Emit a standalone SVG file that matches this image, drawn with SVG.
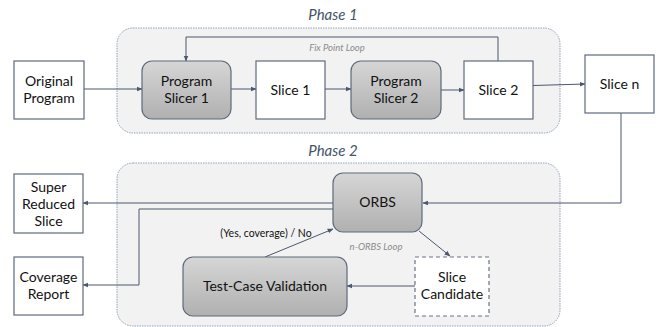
<svg xmlns="http://www.w3.org/2000/svg" width="659" height="327" viewBox="0 0 659 327">
  <defs>
    <linearGradient id="grayFill" x1="0" y1="0" x2="0" y2="1">
      <stop offset="0" stop-color="#d6d6d6"/>
      <stop offset="1" stop-color="#b0b0b0"/>
    </linearGradient>
    <marker id="arrow" viewBox="0 0 10 10" refX="9" refY="5" markerWidth="6" markerHeight="6" orient="auto-start-reverse" markerUnits="userSpaceOnUse">
      <path d="M0,1 L10,5 L0,9 Z" fill="#4a5870"/>
    </marker>
    <style>
      .phase { fill: #f2f2f2; stroke: #8ea2bc; stroke-width: 1; stroke-dasharray: 1.5 1; }
      .phase-title { font-family: Lato, "Open Sans", sans-serif; font-style: italic; font-size: 15px; fill: #44546a; text-anchor: middle; }
      .loop-label { font-family: Lato, "Open Sans", sans-serif; font-style: italic; font-size: 9.5px; fill: #8a8a8a; text-anchor: middle; }
      .box { fill: #ffffff; stroke: #5c6a7c; stroke-width: 1.2; }
      .dashed { stroke-dasharray: 4 3; stroke: #6a7484; }
      .proc { fill: url(#grayFill); stroke: #5c6a7c; stroke-width: 1.2; }
      .label { font-family: Lato, "Open Sans", sans-serif; font-size: 14px; fill: #111111; text-anchor: middle; }
      .edge-label { font-family: Lato, "Open Sans", sans-serif; font-size: 10.5px; fill: #111111; text-anchor: middle; }
      .edge { fill: none; stroke: #4a5870; stroke-width: 1; marker-end: url(#arrow); }
    </style>
  </defs>

  <!-- phase containers -->
  <g id="phase1">
    <rect class="phase" x="117" y="28" width="443" height="105" rx="16"/>
    <text class="phase-title" x="333" y="20">Phase 1</text>
    <text class="loop-label" x="337" y="51">Fix Point Loop</text>
  </g>
  <g id="phase2">
    <rect class="phase" x="117" y="163" width="443" height="163" rx="16"/>
    <text class="phase-title" x="333" y="156">Phase 2</text>
    <text class="loop-label" x="376" y="250">n-ORBS Loop</text>
  </g>

  <!-- connectors -->
  <g id="connectors">
    <line class="edge" x1="84" y1="89" x2="142" y2="89"/>
    <line class="edge" x1="231" y1="89" x2="256" y2="89"/>
    <line class="edge" x1="325" y1="89" x2="351" y2="89"/>
    <line class="edge" x1="441" y1="90" x2="464" y2="90"/>
    <polyline class="edge" points="498,61 498,37 186,37 186,61"/>
    <line class="edge" x1="533" y1="85.5" x2="585" y2="84"/>
    <polyline class="edge" points="621,113 621,203 423,203"/>
    <line class="edge" x1="333" y1="203" x2="83" y2="203"/>
    <polyline class="edge" points="333,209 139,209 139,285 83,285"/>
    <line class="edge" x1="265" y1="257" x2="333" y2="229"/>
    <line class="edge" x1="419" y1="231" x2="450" y2="256"/>
    <line class="edge" x1="415" y1="286" x2="347" y2="286"/>
    <text class="edge-label" x="266" y="237">(Yes, coverage) / No</text>
  </g>

  <!-- nodes -->
  <g id="original-program">
    <rect class="box" x="14" y="61" width="70" height="58"/>
    <text class="label" x="49" y="86">Original</text>
    <text class="label" x="49" y="103">Program</text>
  </g>
  <g id="program-slicer-1">
    <rect class="proc" x="142" y="61" width="89" height="58" rx="10"/>
    <text class="label" x="186.5" y="86">Program</text>
    <text class="label" x="186.5" y="103">Slicer 1</text>
  </g>
  <g id="slice-1">
    <rect class="box" x="256" y="61" width="69" height="58"/>
    <text class="label" x="290.5" y="95">Slice 1</text>
  </g>
  <g id="program-slicer-2">
    <rect class="proc" x="351" y="61" width="90" height="58" rx="10"/>
    <text class="label" x="396" y="86">Program</text>
    <text class="label" x="396" y="103">Slicer 2</text>
  </g>
  <g id="slice-2">
    <rect class="box" x="464" y="61" width="69" height="58"/>
    <text class="label" x="498.5" y="95">Slice 2</text>
  </g>
  <g id="slice-n">
    <rect class="box" x="585" y="55" width="69" height="58"/>
    <text class="label" x="619.5" y="89">Slice n</text>
  </g>
  <g id="orbs">
    <rect class="proc" x="333" y="173" width="89" height="59" rx="10"/>
    <text class="label" x="377.5" y="207">ORBS</text>
  </g>
  <g id="super-reduced-slice">
    <rect class="box" x="14" y="174" width="69" height="59"/>
    <text class="label" x="48.5" y="192">Super</text>
    <text class="label" x="48.5" y="209">Reduced</text>
    <text class="label" x="48.5" y="226">Slice</text>
  </g>
  <g id="coverage-report">
    <rect class="box" x="14" y="257" width="69" height="58"/>
    <text class="label" x="48.5" y="282">Coverage</text>
    <text class="label" x="48.5" y="299">Report</text>
  </g>
  <g id="test-case-validation">
    <rect class="proc" x="183" y="257" width="164" height="59" rx="10"/>
    <text class="label" x="265" y="291">Test-Case Validation</text>
  </g>
  <g id="slice-candidate">
    <rect class="box dashed" x="415" y="257" width="74" height="59"/>
    <text class="label" x="452" y="282">Slice</text>
    <text class="label" x="452" y="299">Candidate</text>
  </g>
</svg>
